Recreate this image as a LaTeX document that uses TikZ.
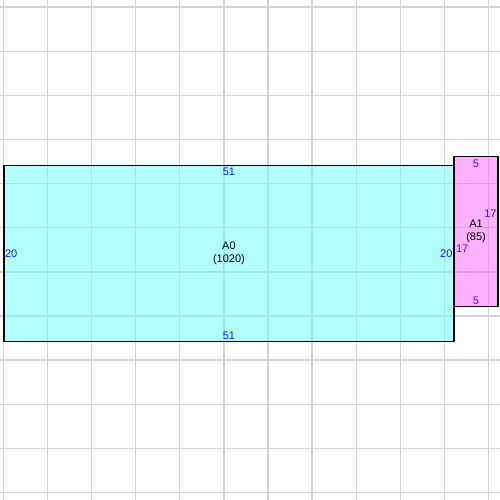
\documentclass[tikz,border=0pt]{standalone}
\usepackage{fontspec}
\setmainfont{Liberation Sans}
\definecolor{gridgray}{RGB}{211,211,211}
\definecolor{cyanfill}{RGB}{100,255,255}
\definecolor{pinkfill}{RGB}{255,100,255}
\definecolor{dimblue}{RGB}{20,20,255}
\definecolor{dimviolet}{RGB}{70,20,255}
\tikzset{
  gridline/.style={draw=gridgray, line width=1.3pt},
  roombox/.style={draw=black, line width=1.3pt, fill opacity=0.5, text opacity=1, inner sep=0pt, anchor=south west},
  dimlabel/.style={font=\fontsize{11}{13}\selectfont, text=dimblue},
  dimlabelb/.style={font=\fontsize{11}{13}\selectfont, text=dimviolet},
  namelabel/.style={font=\fontsize{11}{13}\selectfont, align=center, text=black, inner sep=0pt}
}
\begin{document}
\begin{tikzpicture}[x=8.824pt, y=8.824pt]
\useasboundingbox (-0.374,-17.85) rectangle (56.29,38.81);
% grid
\foreach \gx in {0,5,...,55} \draw[gridline] (\gx,-17.85) -- (\gx,38.81);
\foreach \gy in {-17,-12,...,38} \draw[gridline] (-0.374,\gy) -- (56.29,\gy);
% rooms
\node[roombox, fill=cyanfill, minimum width=450.02pt, minimum height=176.48pt] (A0) at (0,0) {};
\node[roombox, fill=pinkfill, minimum width=44.12pt, minimum height=150.01pt] (A1) at (51,4) {};
% A0 labels
\node[namelabel] (A0name) at (A0.center) {A0\\(1020)};
\node[dimlabel, anchor=north, inner sep=3pt] (A0top) at (A0.north) {51};
\node[dimlabel, anchor=south, inner sep=2.5pt] (A0bot) at (A0.south) {51};
\node[dimlabel, anchor=west, inner sep=1.5pt] (A0left) at (A0.west) {20};
\node[dimlabel, anchor=east, inner sep=2pt] (A0right) at (A0.east) {20};
% A1 labels
\node[namelabel] (A1name) at (A1.center) {A1\\(85)};
\node[dimlabelb, anchor=north, inner sep=3.5pt] (A1top) at (A1.north) {5};
\node[dimlabelb, anchor=south, inner sep=2pt] (A1bot) at (A1.south) {5};
\node[dimlabelb, anchor=east, inner sep=2pt] (A1right) at ([yshift=2*8.824pt]A1.east) {17};
\node[dimlabelb, anchor=west, inner sep=2.5pt] (A1left) at ([yshift=-2*8.824pt]A1.west) {17};
\end{tikzpicture}
\end{document}
